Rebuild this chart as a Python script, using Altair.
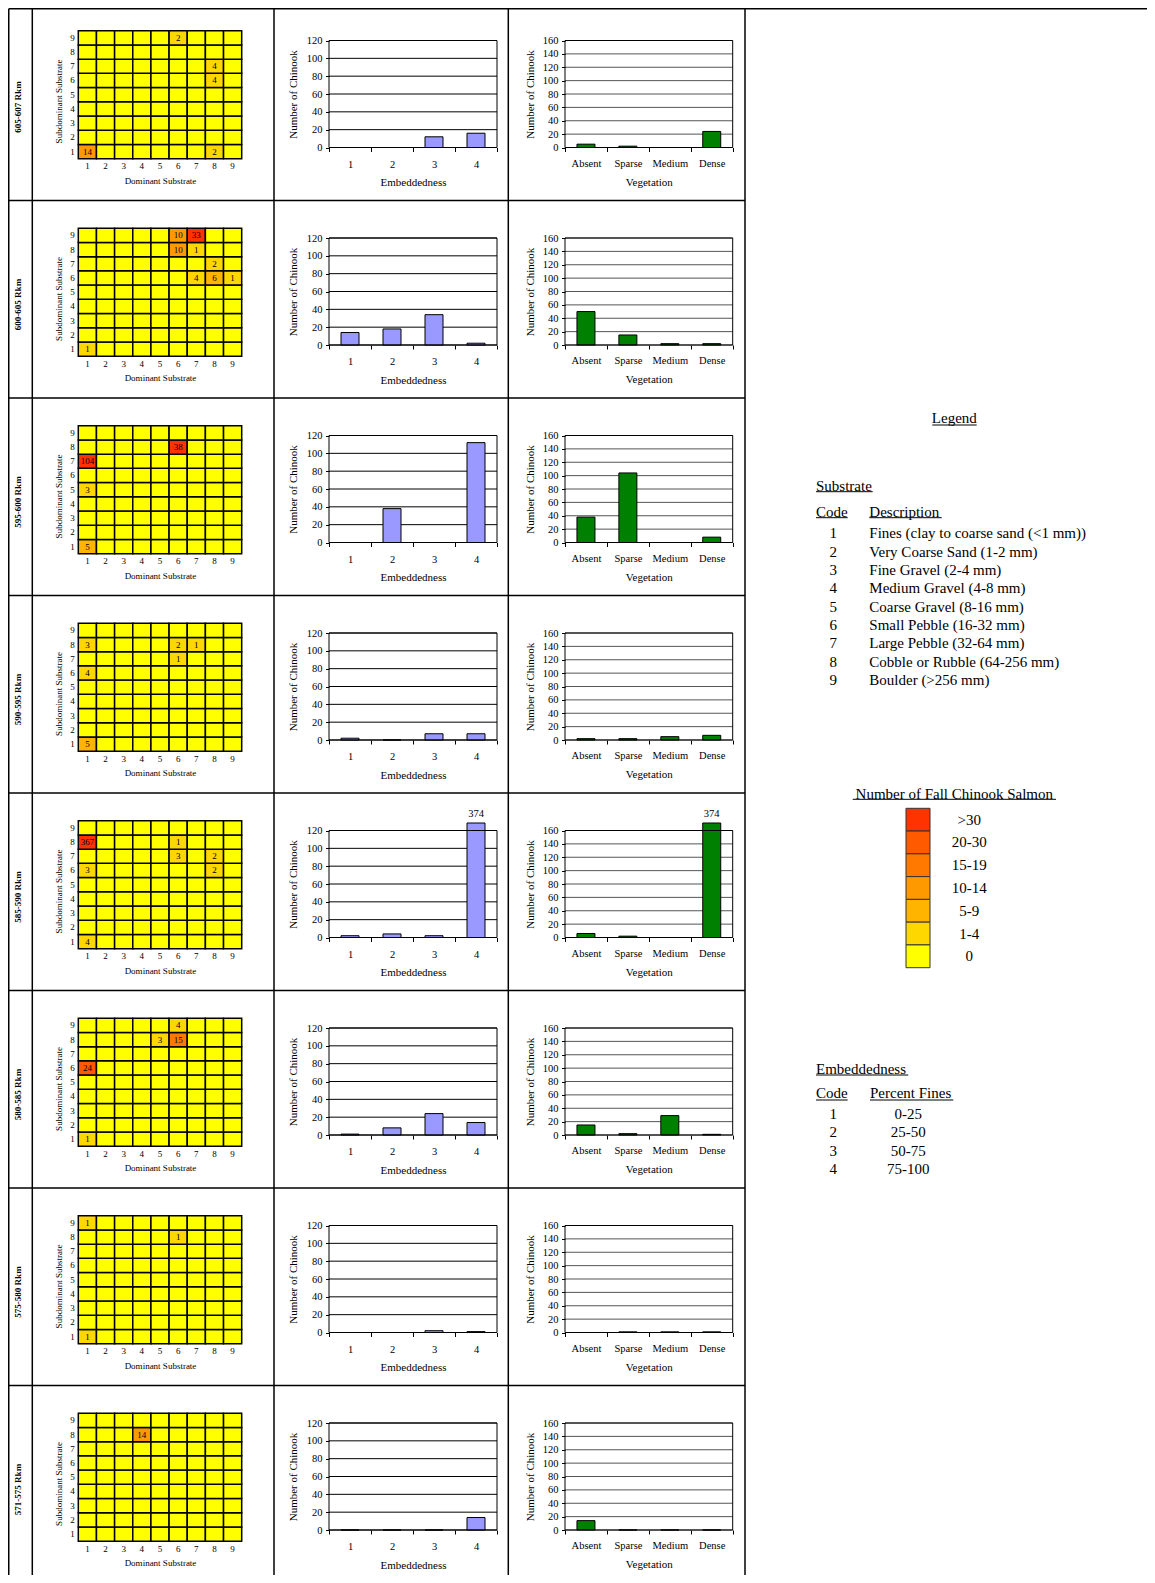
import altair as alt
import pandas as pd

# ---------------- data ----------------
reaches = ["605-607 Rkm", "600-605 Rkm", "595-600 Rkm", "590-595 Rkm",
           "585-590 Rkm", "580-585 Rkm", "575-580 Rkm", "571-575 Rkm"]
substrate_codes = [1, 2, 3, 4, 5, 6, 7, 8, 9]
embed_codes = ["1", "2", "3", "4"]
veg_classes = ["Absent", "Sparse", "Medium", "Dense"]

# non-zero heat-map cells per reach: (dominant, subdominant, count)
heat_cells = [
    [(6, 9, 2), (8, 7, 4), (8, 6, 4), (1, 1, 14), (8, 1, 2)],
    [(6, 9, 10), (7, 9, 33), (6, 8, 10), (7, 8, 1), (8, 7, 2), (7, 6, 4), (8, 6, 6), (9, 6, 1), (1, 1, 1)],
    [(6, 8, 38), (1, 7, 104), (1, 5, 3), (1, 1, 5)],
    [(1, 8, 3), (6, 8, 2), (7, 8, 1), (6, 7, 1), (1, 6, 4), (1, 1, 5)],
    [(1, 8, 367), (6, 8, 1), (6, 7, 3), (8, 7, 2), (1, 6, 3), (8, 6, 2), (1, 1, 4)],
    [(6, 9, 4), (5, 8, 3), (6, 8, 15), (1, 6, 24), (1, 1, 1)],
    [(1, 9, 1), (6, 8, 1), (1, 1, 1)],
    [(4, 8, 14)],
]
embed_counts = [
    [0, 0, 12, 16],
    [14, 18, 34, 2],
    [0, 38, 0, 112],
    [2, 0, 7, 7],
    [2, 4, 2, 374],
    [1, 8, 24, 14],
    [0, 0, 2, 1],
    [0, 0, 0, 14],
]
veg_counts = [
    [5, 2, 0, 24],
    [50, 15, 2, 2],
    [38, 104, 0, 8],
    [2, 2, 5, 7],
    [6, 2, 0, 374],
    [15, 2, 29, 1],
    [0, 1, 1, 1],
    [14, 0, 0, 0],
]
substrate_desc = [
    "Fines (clay to coarse sand (<1 mm))",
    "Very Coarse Sand (1-2 mm)",
    "Fine Gravel (2-4 mm)",
    "Medium Gravel (4-8 mm)",
    "Coarse Gravel (8-16 mm)",
    "Small Pebble (16-32 mm)",
    "Large Pebble (32-64 mm)",
    "Cobble or Rubble (64-256 mm)",
    "Boulder (>256 mm)",
]
fines_ranges = ["0-25", "25-50", "50-75", "75-100"]
legend_classes = [">30", "20-30", "15-19", "10-14", "5-9", "1-4", "0"]
legend_class_values = [31, 20, 15, 10, 5, 1, 0]
color_breaks = [1, 5, 10, 15, 20, 31]

# ---------------- layout ----------------
OX, OY = 8, 8
W, H = 1139, 1567
FONT = "Liberation Serif"
ROW0 = 3.0
PITCH = 197.5


def cx(v):
    return v - OX


def cy(v):
    return v - OY


color_scale = alt.Scale(type="threshold", domain=color_breaks,
                        range=["#FFFF00", "#FFD700", "#FFB400", "#FF9900",
                               "#FF7800", "#FF5A00", "#FF3300"])

one = pd.DataFrame({"a": [0]})


def heat_panel(i):
    ry = ROW0 + PITCH * i
    look = {(d, s): n for d, s, n in heat_cells[i]}
    df = pd.DataFrame([{"dom": d, "sub": s, "n": look.get((d, s), 0)}
                       for s in substrate_codes for d in substrate_codes])
    gx0, gx1 = cx(78.3), cx(241.7)
    gy0, gy1 = cy(ry + 27.7), cy(ry + 155.7)
    xs = alt.Scale(type="band", domain=substrate_codes, range=[gx0, gx1],
                   paddingInner=0, paddingOuter=0)
    ys = alt.Scale(type="band", domain=substrate_codes[::-1], range=[gy0, gy1],
                   paddingInner=0, paddingOuter=0)
    xax = alt.Axis(orient="bottom", offset=gy1 - H, ticks=False, tickSize=0, domain=False,
                   grid=False, labelAngle=0, labelFont=FONT, labelFontSize=9,
                   labelColor="black", labelPadding=7, labelBaseline="middle",
                   title="Dominant Substrate", titleFont=FONT, titleFontSize=9,
                   titleFontWeight="normal", titleColor="black", titleY=21.3,
                   titleBaseline="middle")
    yax = alt.Axis(orient="left", offset=-gx0, ticks=False, tickSize=0, domain=False,
                   grid=False, labelFont=FONT, labelFontSize=9, labelColor="black",
                   labelPadding=4, title="Subdominant Substrate", titleFont=FONT,
                   titleFontSize=9, titleFontWeight="normal", titleColor="black",
                   titleX=-20, titleY=cy(ry + 98), titleAngle=270,
                   titleBaseline="middle", titleAlign="center")
    rect = alt.Chart(df).mark_rect(stroke="black", strokeWidth=1.5).encode(
        x=alt.X("dom:O", scale=xs, axis=xax),
        y=alt.Y("sub:O", scale=ys, axis=yax),
        color=alt.Color("n:Q", scale=color_scale, legend=None),
    )
    txt = alt.Chart(df).transform_filter("datum.n > 0").mark_text(
        font=FONT, fontSize=9, color="black", baseline="middle").encode(
        x=alt.X("dom:O", scale=xs, axis=xax),
        y=alt.Y("sub:O", scale=ys, axis=yax),
        text="n:Q",
    )
    return alt.layer(rect, txt)


def bar_panel(i, cats, counts, left, right, ymax, fill, grid_color, xtitle,
              ytitle_x, xlab_pad, xtitle_y):
    ry = ROW0 + PITCH * i
    x0, x1 = cx(left), cx(right)
    zero, top = cy(ry + 144.5), cy(ry + 37.5)
    ppu = (zero - top) / ymax
    over = max(counts) > ymax
    dmax = ymax * (1 + 7.5 / 107.0) if over else ymax
    ys = alt.Scale(domain=[0, dmax], range=[zero, zero - dmax * ppu], nice=False,
                   zero=False, clamp=True)
    xs = alt.Scale(type="band", domain=cats, range=[x0, x1], paddingInner=0,
                   paddingOuter=0)
    tick_vals = list(range(0, ymax + 1, 20))
    df = pd.DataFrame({"cat": cats, "n": counts})
    gdf = pd.DataFrame({"v": tick_vals})
    yax = alt.Axis(orient="left", offset=-x0, values=tick_vals, ticks=True, tickSize=3.5,
                   tickColor="black", domain=False, grid=False, labelFont=FONT,
                   labelFontSize=10.5, labelColor="black", labelPadding=3.5,
                   title="Number of Chinook", titleFont=FONT, titleFontSize=11,
                   titleFontWeight="normal", titleColor="black",
                   titleX=ytitle_x - left, titleY=cy(ry + 91), titleAngle=270,
                   titleBaseline="middle", titleAlign="center")
    xax = alt.Axis(orient="bottom", offset=zero - H, tickBand="extent", ticks=True,
                   tickSize=4, tickColor="black", domain=False, grid=False, labelAngle=0,
                   labelFont=FONT, labelFontSize=10.5, labelColor="black",
                   labelPadding=xlab_pad, labelBaseline="middle", title=xtitle,
                   titleFont=FONT, titleFontSize=11, titleFontWeight="normal",
                   titleColor="black", titleY=xtitle_y, titleBaseline="middle")
    grid = alt.Chart(gdf).mark_rule(color=grid_color, strokeWidth=1).encode(
        y=alt.Y("v:Q", scale=ys, axis=yax),
        x=alt.value(x0), x2=alt.value(x1),
    )
    bars = alt.Chart(df).mark_bar(width=18, fill=fill, stroke="black", strokeWidth=1).encode(
        x=alt.X("cat:N", scale=xs, axis=xax, sort=cats),
        y=alt.Y("n:Q", scale=ys, axis=yax),
    )
    frame = alt.Chart(one).mark_rect(fillOpacity=0, stroke="black", strokeWidth=1).encode(
        x=alt.value(x0), x2=alt.value(x1), y=alt.value(top), y2=alt.value(zero))
    parts = [grid, bars, frame]
    if over:
        lab = alt.Chart(df).transform_filter(f"datum.n > {ymax}").mark_text(
            font=FONT, fontSize=10.5, color="black", baseline="middle", dy=-9.5).encode(
            x=alt.X("cat:N", scale=xs, axis=xax, sort=cats),
            y=alt.Y("n:Q", scale=ys, axis=yax),
            text="n:Q",
        )
        parts.append(lab)
    return alt.layer(*parts)


def text_layer(items, align, size=15, weight="normal", angle=0):
    df = pd.DataFrame(items, columns=["t", "x", "y"])
    df["x"] = df["x"] - OX
    df["y"] = df["y"] - OY
    return alt.Chart(df).mark_text(font=FONT, fontSize=size, align=align, baseline="middle",
                                   color="black", fontWeight=weight, angle=angle).encode(
        x=alt.X("x:Q", scale=None, axis=None),
        y=alt.Y("y:Q", scale=None, axis=None),
        text="t:N",
    )


children = []

# table borders
col_lines = [3, 32.3, 274, 508.3, 745]
lines = []
for xv in col_lines:
    xx = max(cx(xv), 0.75)
    lines.append({"x": xx, "x2": xx, "y": 0.75, "y2": H})
for k in range(8):
    yy = max(cy(ROW0 + PITCH * k), 0.75)
    lines.append({"x": 0.75, "x2": (W if k == 0 else cx(745)), "y": yy, "y2": yy})
children.append(alt.Chart(pd.DataFrame(lines)).mark_rule(color="black", strokeWidth=1.5).encode(
    x=alt.X("x:Q", scale=None, axis=None), x2="x2:Q",
    y=alt.Y("y:Q", scale=None, axis=None), y2="y2:Q"))

# reach labels
children.append(text_layer([(reaches[i], 18, ROW0 + PITCH * i + 104) for i in range(8)],
                           "center", size=9, weight="bold", angle=270))

for i in range(8):
    children.append(heat_panel(i))
    children.append(bar_panel(i, embed_codes, embed_counts[i], 329, 497, 120, "#9999FF",
                              "black", "Embeddedness", 293.3, 12.5, 35.2))
    children.append(bar_panel(i, veg_classes, veg_counts[i], 565, 732.7, 160, "#008000",
                              "#555555", "Vegetation", 530, 11.5, 34.8))

# ---------------- legend ----------------
left_items = [("Substrate", 816, 486), ("Code", 816, 511.7), ("Description", 869.3, 511.7),
              ("Embeddedness", 816, 1069.3), ("Code", 816, 1093.3),
              ("Percent Fines", 870, 1093.3)]
left_items += [(d, 869.3, 533.3 + 18.33 * k) for k, d in enumerate(substrate_desc)]
center_items = [("Legend", 954.3, 418.3), ("Number of Fall Chinook Salmon", 954.3, 794)]
center_items += [(str(c), 833.3, 533.3 + 18.33 * k) for k, c in enumerate(substrate_codes)]
center_items += [(c, 833.3, 1114 + 18.33 * k) for k, c in enumerate(embed_codes)]
center_items += [(r, 908.3, 1114 + 18.33 * k) for k, r in enumerate(fines_ranges)]
children.append(text_layer(left_items, "left"))
children.append(text_layer(center_items, "center"))

underlines = [(932.3, 976.7, 425), (816, 872.7, 491.7), (816, 847.7, 517.7),
              (869.3, 941.7, 517.7), (852.7, 1056, 799.3), (816, 908.3, 1075),
              (816, 847.7, 1100), (870, 953.3, 1100)]
ul = pd.DataFrame([{"x": cx(a), "x2": cx(b), "y": cy(c)} for a, b, c in underlines])
children.append(alt.Chart(ul).mark_rule(color="black", strokeWidth=1).encode(
    x=alt.X("x:Q", scale=None, axis=None), x2="x2:Q",
    y=alt.Y("y:Q", scale=None, axis=None)))

sw_df = pd.DataFrame({"cls": legend_classes, "n": legend_class_values})
sw_y = alt.Scale(type="band", domain=legend_classes, range=[cy(808.3), cy(967.7)],
                 paddingInner=0, paddingOuter=0)
sw = alt.Chart(sw_df).mark_rect(stroke="#333333", strokeWidth=1).encode(
    y=alt.Y("cls:N", scale=sw_y, axis=None, sort=legend_classes),
    x=alt.value(cx(906)), x2=alt.value(cx(930)),
    color=alt.Color("n:Q", scale=color_scale, legend=None),
)
sw_t = alt.Chart(sw_df).mark_text(font=FONT, fontSize=15, baseline="middle", align="center",
                                  color="black").encode(
    y=alt.Y("cls:N", scale=sw_y, axis=None, sort=legend_classes),
    x=alt.value(cx(969.3)),
    text="cls:N",
)
children.append(alt.layer(sw, sw_t))

chart = alt.layer(*children).resolve_scale(x="independent", y="independent").properties(
    width=W, height=H, autosize=alt.AutoSizeParams(type="none"), padding=0
).configure_view(stroke=None)

chart.save("out.html", embed_options={"renderer": "svg", "actions": False})
